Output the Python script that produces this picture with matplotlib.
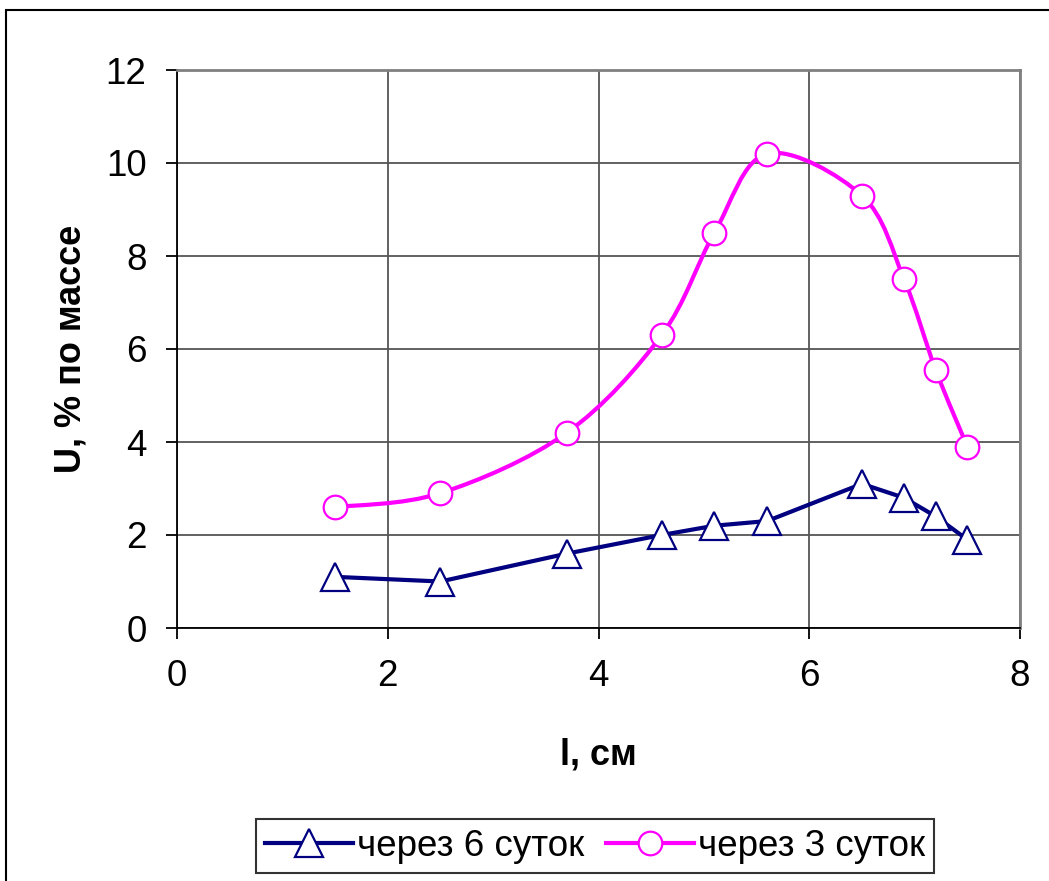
import numpy as np
import matplotlib.pyplot as plt
from matplotlib.path import Path
from matplotlib.patches import PathPatch, Rectangle
from matplotlib.lines import Line2D

plt.rcParams['font.family'] = ['Liberation Sans', 'DejaVu Sans']

# данные
l6 = [1.5, 2.5, 3.7, 4.6, 5.1, 5.6, 6.5, 6.9, 7.2, 7.5]
u6 = [1.1, 1.0, 1.6, 2.0, 2.2, 2.3, 3.1, 2.8, 2.4, 1.9]
l3 = [1.5, 2.5, 3.7, 4.6, 5.1, 5.6, 6.5, 6.9, 7.2, 7.5]
u3 = [2.6, 2.9, 4.2, 6.3, 8.5, 10.2, 9.3, 7.5, 5.55, 3.9]

navy = '#000080'
magenta = '#FF00FF'

fig = plt.figure(figsize=(10.49, 8.81), dpi=100)
ax = fig.add_axes([177/1049, 1-628/881, (1020-177)/1049, (628-70)/881])

# сглаженная линия (как в Excel) через кривые Безье
pts = np.column_stack([l3, u3])
verts = [pts[0]]
codes = [Path.MOVETO]
for i in range(len(pts) - 1):
    p0 = pts[i-1] if i > 0 else pts[i]
    p1 = pts[i]
    p2 = pts[i+1]
    p3 = pts[i+2] if i + 2 < len(pts) else pts[i+1]
    verts += [p1 + (p2 - p0) / 6, p2 - (p3 - p1) / 6, p2]
    codes += [Path.CURVE4] * 3
ax.add_patch(PathPatch(Path(verts, codes), fill=False, edgecolor=magenta, lw=3, zorder=3))

ax.plot(l6, u6, color=navy, lw=3, marker='^', ms=20, mfc='white', mec=navy, mew=1.6, zorder=4)
ax.plot(l3, u3, ls='none', marker='o', ms=17, mfc='white', mec=magenta, mew=1.6, zorder=4)

ax.set_xlim(0, 8)
ax.set_ylim(0, 12)
ax.set_xticks([0, 2, 4, 6, 8])
ax.set_yticks([0, 2, 4, 6, 8, 10, 12])
ax.grid(True, color='#555555', lw=1.3)
ax.set_axisbelow(True)
for s in ['top', 'right']:
    ax.spines[s].set_color('#808080')
    ax.spines[s].set_linewidth(2)
for s in ['left', 'bottom']:
    ax.spines[s].set_color('black')
    ax.spines[s].set_linewidth(1.3)
ax.tick_params(direction='out', length=8, width=1.3, labelsize=26.5, pad=14)

ax.set_xlabel('l, см', fontsize=26, fontweight='bold', labelpad=32)
ax.set_ylabel('U, % по массе', fontsize=26, fontweight='bold', labelpad=12)

h1 = Line2D([], [], color=navy, lw=3, marker='^', ms=20, mfc='white', mec=navy, mew=1.6)
h2 = Line2D([], [], color=magenta, lw=3, marker='o', ms=17, mfc='white', mec=magenta, mew=1.6)
leg = fig.legend([h1, h2], ['через 6 суток', 'через 3 суток'], loc='center',
                 bbox_to_anchor=(595/1049, 1-846/881), ncol=2, fontsize=26.5,
                 frameon=True, fancybox=False, edgecolor='black', handlelength=2.4,
                 handletextpad=0.1, columnspacing=0.6, borderpad=0.25, borderaxespad=0)
leg.get_frame().set_linewidth(1.5)

fig.patches.append(Rectangle((6/1049, -0.1), 1.2, 1 - 10/881 + 0.1, transform=fig.transFigure,
                             fill=False, edgecolor='black', lw=1.5))

fig.savefig('out.png', dpi=100)
